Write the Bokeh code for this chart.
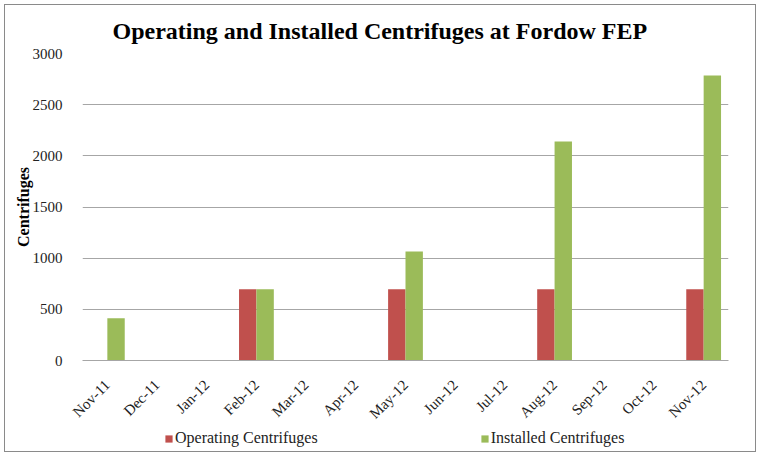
from math import pi
from bokeh.plotting import figure
from bokeh.layouts import column
from bokeh.models import ColumnDataSource, FactorRange, Range1d, Legend, LegendItem, SingleIntervalTicker
from bokeh.transform import dodge
from bokeh.embed import file_html
from bokeh.resources import INLINE

months = ["Nov-11", "Dec-11", "Jan-12", "Feb-12", "Mar-12", "Apr-12", "May-12",
          "Jun-12", "Jul-12", "Aug-12", "Sep-12", "Oct-12", "Nov-12"]
operating = [None, None, None, 696, None, None, 696, None, None, 696, None, None, 696]
installed = [412, None, None, 696, None, None, 1064, None, None, 2140, None, None, 2784]
series_names = ["Operating Centrifuges", "Installed Centrifuges"]

RED = "#C0504D"
GREEN = "#9BBB59"
SERIF = "Liberation Serif"
GRID = "#a6a6a6"

src = ColumnDataSource(dict(month=months, operating=operating, installed=installed))

p = figure(x_range=FactorRange(*months), y_range=Range1d(0, 3000),
           width=750, height=425, output_backend="svg", toolbar_location=None,
           min_border_left=77, min_border_right=27, min_border_top=48, min_border_bottom=70)
p.outline_line_color = None

p.vbar(x=dodge("month", -0.175, range=p.x_range), top="operating", width=0.35,
       source=src, fill_color=RED, line_color=None)
p.vbar(x=dodge("month", 0.175, range=p.x_range), top="installed", width=0.35,
       source=src, fill_color=GREEN, line_color=None)

p.title.text = "Operating and Installed Centrifuges at Fordow FEP"
p.title.align = "left"
p.title.offset = 30
p.title.text_font = SERIF
p.title.text_font_size = "24px"
p.title.text_font_style = "bold"
p.title.text_color = "#000000"
p.title.standoff = 19

p.xgrid.grid_line_color = None
p.ygrid.grid_line_color = GRID
p.ygrid.grid_line_width = 1

p.yaxis.ticker = SingleIntervalTicker(interval=500)
p.yaxis.axis_line_color = None
p.yaxis.major_tick_line_color = None
p.yaxis.minor_tick_line_color = None
p.yaxis.major_label_text_font = SERIF
p.yaxis.major_label_text_font_size = "15px"
p.yaxis.major_label_text_color = "#222222"
p.yaxis.major_label_standoff = 14
p.yaxis.axis_label = "Centrifuges"
p.yaxis.axis_label_text_font = SERIF
p.yaxis.axis_label_text_font_size = "16px"
p.yaxis.axis_label_text_font_style = "bold"
p.yaxis.axis_label_text_color = "#000000"
p.yaxis.axis_label_standoff = -2

p.xaxis.axis_line_color = GRID
p.xaxis.major_tick_line_color = None
p.xaxis.minor_tick_line_color = None
p.xaxis.major_tick_out = 0
p.xaxis.major_tick_in = 0
p.xaxis.major_label_orientation = pi / 4
p.xaxis.major_label_text_font = SERIF
p.xaxis.major_label_text_font_size = "15px"
p.xaxis.major_label_text_color = "#222222"
p.xaxis.major_label_standoff = 22

# legend strip below the chart (its y range lies far above every bar, only swatches show)
q = figure(x_range=FactorRange(*months), y_range=Range1d(10000, 10001), width=750, height=21,
           output_backend="svg", toolbar_location=None,
           x_axis_location=None, y_axis_location=None,
           min_border_left=0, min_border_right=0, min_border_top=0, min_border_bottom=0)
q.outline_line_color = None
q.xgrid.grid_line_color = None
q.ygrid.grid_line_color = None
g1 = q.vbar(x=dodge("month", -0.175, range=q.x_range), top="operating", width=0.35,
            source=src, fill_color=RED, line_color=None)
g2 = q.vbar(x=dodge("month", 0.175, range=q.x_range), top="installed", width=0.35,
            source=src, fill_color=GREEN, line_color=None)
legend = Legend(items=[LegendItem(label=series_names[0], renderers=[g1]),
                       LegendItem(label=series_names[1], renderers=[g2])],
                orientation="horizontal", location=(82, 4), spacing=162,
                glyph_width=9, glyph_height=9, label_standoff=2, label_height=16,
                label_text_font=SERIF, label_text_font_size="16px", label_text_color="#222222",
                border_line_color=None, background_fill_alpha=0, padding=0, margin=0)
q.add_layout(legend, "center")

layout = column(p, q, spacing=0)
layout.styles = {"border": "1px solid #8a8a8a", "margin": "4px"}

open("out.html", "w").write(file_html(layout, INLINE))
